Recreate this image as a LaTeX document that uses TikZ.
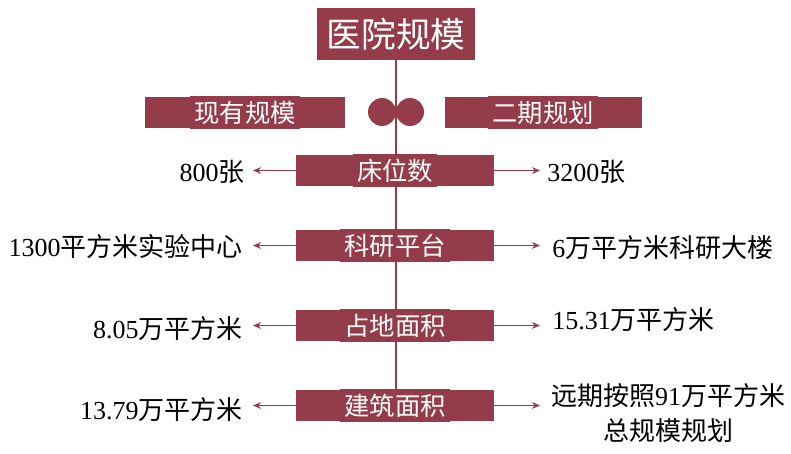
\documentclass[tikz,border=0pt]{standalone}
\usepackage{fontspec}
\usetikzlibrary{arrows.meta}
\setmainfont{Liberation Serif}
\newfontfamily\cjk{Noto Sans CJK SC}
\definecolor{wine}{HTML}{943C4A}
\begin{document}
\begin{tikzpicture}[x=0.75pt,y=-0.75pt,
  box/.style={fill=wine,draw=none,text=white,font=\cjk\fontsize{19}{22}\selectfont},
  lbl/.style={font=\fontsize{19.5}{23}\selectfont,inner sep=0pt},
  arr/.style={draw=wine,line width=0.9pt,-{Stealth[length=6pt,width=5pt]}}]
\useasboundingbox (0,0) rectangle (791,453);
\fill[box] (317,8) rectangle (475,60);
\node[box,font=\cjk\fontsize{26}{30}\selectfont] (t) at (396,34) {医院规模};
\draw[wine,line width=0.8pt] (396,60) -- (396,410);
\fill[wine] (145,97) rectangle (345,128);
\node[box] (a) at (245,112.5) {现有规模};
\fill[wine] (445,97) rectangle (642,128);
\node[box] (b) at (543,112.5) {二期规划};
\fill[wine] (382,112) circle (14);
\fill[wine] (410,112) circle (14);
\foreach \n/\t/\y in {c/床位数/170.5,d/科研平台/245.5,e/占地面积/325.5,f/建筑面积/405.5}{
  \fill[wine] (296,\y-15.5) rectangle (494,\y+15.5);
  \node[box] (\n) at (395,\y) {\t};
  \coordinate (\n l) at (296,\y);
  \coordinate (\n r) at (494,\y);
  \coordinate (\n L) at (253,\y);
  \coordinate (\n R) at (540,\y);
  \draw[arr] (\n l) -- (\n L);
  \draw[arr] (\n r) -- (\n R);
}
\node[lbl,anchor=east] (c1) at (245,172) {800{\cjk 张}};
\node[lbl,anchor=west] (c2) at (547,172) {3200{\cjk 张}};
\node[lbl,anchor=east] (d1) at (243,247) {1300{\cjk 平方米实验中心}};
\node[lbl,anchor=west] (d2) at (552,248) {6{\cjk 万平方米科研大楼}};
\node[lbl,anchor=east] (e1) at (243,329) {8.05{\cjk 万平方米}};
\node[lbl,anchor=west] (e2) at (552,320) {15.31{\cjk 万平方米}};
\node[lbl,anchor=east] (f1) at (243,410) {13.79{\cjk 万平方米}};
\node[lbl,align=center] (f2) at (668,413) {{\cjk 远期按照}91{\cjk 万平方米}\\[3pt]{\cjk 总规模规划}};
\end{tikzpicture}
\end{document}
